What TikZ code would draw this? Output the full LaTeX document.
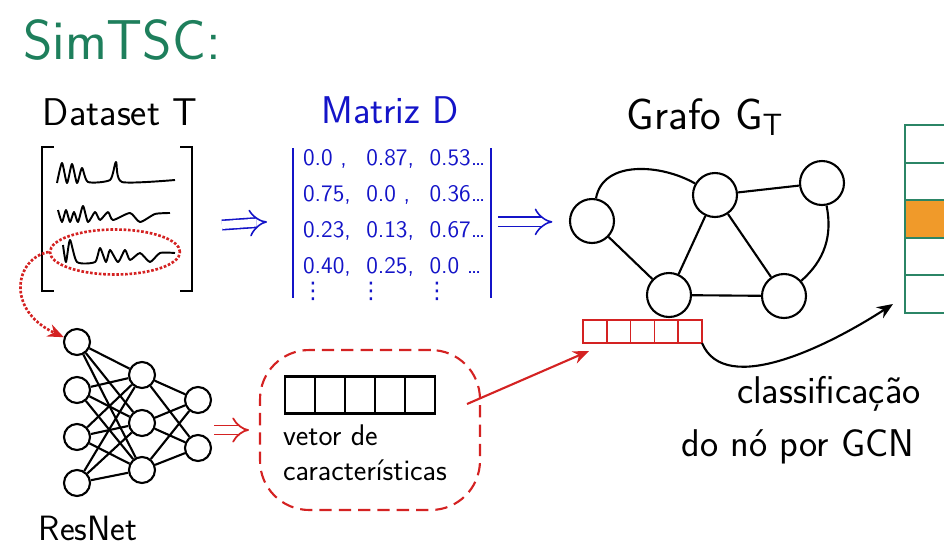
\documentclass[tikz,border=0pt]{standalone}
\usepackage{fontspec}
\newfontfamily\dotsfont{DejaVu Sans}
\usetikzlibrary{arrows.meta,positioning,calc,shapes.geometric}
\definecolor{simgreen}{HTML}{1E7F5C}
\definecolor{boxgreen}{HTML}{2B8566}
\definecolor{inkblue}{HTML}{1414C8}
\definecolor{inkred}{HTML}{D42222}
\definecolor{hitorange}{HTML}{F09A2A}

\begin{document}
\begin{tikzpicture}[x=0.02cm, y=-0.02cm, >={Stealth[length=3.2mm, width=2.6mm]},
  font=\sffamily, line width=1.2pt,
  gnode/.style={draw, circle, minimum size=0.88cm, inner sep=0pt},
  neuron/.style={draw, circle, minimum size=0.52cm, inner sep=0pt},
  gcell/.style={draw=boxgreen, minimum width=0.9cm, minimum height=0.752cm,
    inner sep=0pt, outer sep=0pt},
  rcell/.style={draw=inkred, line width=0.9pt, minimum width=0.476cm,
    minimum height=0.46cm, inner sep=0pt, outer sep=0pt},
  fcell/.style={draw, minimum width=0.6cm, minimum height=0.74cm,
    inner sep=0pt, outer sep=0pt},
  imp/.style={-{Implies}, double, double distance=4.5pt, line width=0.9pt},
  head/.style={font=\sffamily\fontsize{22}{26}\selectfont},
  vdot/.style={text=inkblue, inner sep=0pt, font=\dotsfont\fontsize{13}{13}\selectfont},
  series/.style={line width=1.1pt, line join=round}]
\useasboundingbox (0,0) rectangle (944,549);

\node[text=simgreen, font=\sffamily\fontsize{32}{36}\selectfont] (title) at (122,40) {SimTSC:};

% dataset of series
\node[head] (dstitle) at (120,112) {Dataset T};
\node[minimum width=2.96cm, minimum height=2.84cm] (ds) at (117,219) {};
\draw ($(ds.north west)+(12,0)$) -- (ds.north west) -- (ds.south west) -- ++(12,0);
\draw ($(ds.north east)+(-12,0)$) -- (ds.north east) -- (ds.south east) -- ++(-12,0);
\draw[series] plot[smooth, tension=0.4] coordinates {(57,183) (62,163) (67,183) (72,164)
  (77,183) (82,168) (88,182) (110,180) (116,162) (122,182) (175,180)};
\draw[series] plot[smooth, tension=0.4] coordinates {(58,210) (62,222) (66,210) (70,222)
  (74,212) (78,222) (83,206) (88,222) (95,212) (100,220) (108,212) (113,220) (130,213)
  (140,222) (155,214) (170,213)};
\draw[series] plot[smooth, tension=0.4] coordinates {(63,245) (66,262) (70,240) (77,262)
  (95,262) (100,248) (106,262) (110,250) (118,262) (125,250) (130,260) (140,253)
  (150,262) (160,253) (175,253)};
\node[draw=inkred, densely dotted, line width=1.5pt, ellipse, minimum width=2.6cm,
  minimum height=0.9cm] (pick) at (115,252) {};

% distance matrix
\node[head, text=inkblue] (mattitle) at (390,110) {Matriz D};
\node[text=inkblue, anchor=north west, inner sep=0pt,
  font=\sffamily\fontsize{13.5}{16}\selectfont] (mat) at (302,145) {%
  \begin{tabular}{@{}l@{\ \ }l@{\ \ }l@{}}
  0.0 , & 0.87, & 0.53\dots \\[4.4pt]
  0.75, & 0.0 , & 0.36\dots \\[4.4pt]
  0.23, & 0.13, & 0.67\dots \\[4.4pt]
  0.40, & 0.25, & 0.0 \dots \\
  \end{tabular}};
\node[vdot] (dots1) at (313,291) {⋮};
\node[vdot] (dots2) at (371,291) {⋮};
\node[vdot] (dots3) at (437,291) {⋮};
\draw[inkblue] ($(mat.north west)+(-9,3)$) -- ++(0,150);
\draw[inkblue] ($(mat.north east)+(5,3)$) -- ++(0,150);
\draw[imp, inkblue] ($(ds.east)+(30,6)$) -- ($(mat.west)+(-35,8)$);
\draw[imp, inkblue] ($(mat.east)+(12,8)$) -- ($(mat.east)+(66,8)$);

% graph
\node[head, font=\sffamily\fontsize{25}{28}\selectfont] (gtitle) at (705,117) {Grafo G\textsubscript{T}};
\node[gnode] (g1) at (592,221) {};
\node[gnode] (g2) at (715,195) {};
\node[gnode] (g3) at (822,183) {};
\node[gnode] (g4) at (669,295) {};
\node[gnode] (g5) at (784,296) {};
\draw (g1) to[out=80, in=150] (g2);
\draw (g1) -- (g4);
\draw (g2) -- (g3);
\draw (g2) -- (g4);
\draw (g2) -- (g5);
\draw (g4) -- (g5);
\draw (g3) to[bend left=30] (g5);

% node embedding
\foreach \i in {0,...,4}
  \node[rcell] (rv\i) at (594.9+23.8*\i,331.5) {};

% output classes
\foreach \i in {0,...,4}
  \node[gcell] (out\i) at (927.5,143.8+37.6*\i) {};
\node[gcell, fill=hitorange] at (out2) {};

\draw[->] (rv4.south east) .. controls (725,398) and (830,345) .. ($(out4.south west)+(-12,-9)$);
\node[font=\sffamily\fontsize{22}{30}\selectfont, align=center] (gcn) at (798,420)
  {\hspace*{1.6em}classificação\\do nó por GCN};

% resnet
\foreach \j/\y in {1/342,2/390,3/437,4/483}
  \node[neuron] (na\j) at (77,\y) {};
\foreach \j/\y in {1/375,2/423,3/470}
  \node[neuron] (nb\j) at (142,\y) {};
\foreach \j/\y in {1/400,2/448}
  \node[neuron] (nc\j) at (198,\y) {};
\foreach \a in {1,...,4}
  \foreach \b in {1,2,3}
    \draw (na\a) -- (nb\b);
\foreach \b in {1,2,3}
  \foreach \c in {1,2}
    \draw (nb\b) -- (nc\c);
\node[font=\sffamily\fontsize{20}{24}\selectfont] (resnet) at (88,528) {ResNet};
\draw[->, inkred, densely dotted, line width=1.5pt] (pick.west) .. controls (15,258) and (5,310) .. (na1.160);

% feature vector
\node[draw=inkred, dashed, dash pattern=on 7pt off 4pt, rounded corners=28pt,
  minimum width=4.4cm, minimum height=3.2cm] (cloud) at (370,430) {};
\foreach \i in {0,...,4}
  \node[fcell] (fv\i) at (300+30*\i,395) {};
\node[anchor=north west, align=left, inner sep=0pt,
  font=\sffamily\fontsize{17}{20}\selectfont] (fvtext) at (282,424)
  {vetor de\\características};
\coordinate (nnout) at (214,430);
\draw[imp, inkred, line width=1pt, double distance=4pt] (nnout) -- ($(cloud.west)+(-10,0)$);
\draw[->, inkred] ($(cloud.east)+(-14,-26)$) -- ($(rv0.south west)+(6,8)$);
\end{tikzpicture}
\end{document}
